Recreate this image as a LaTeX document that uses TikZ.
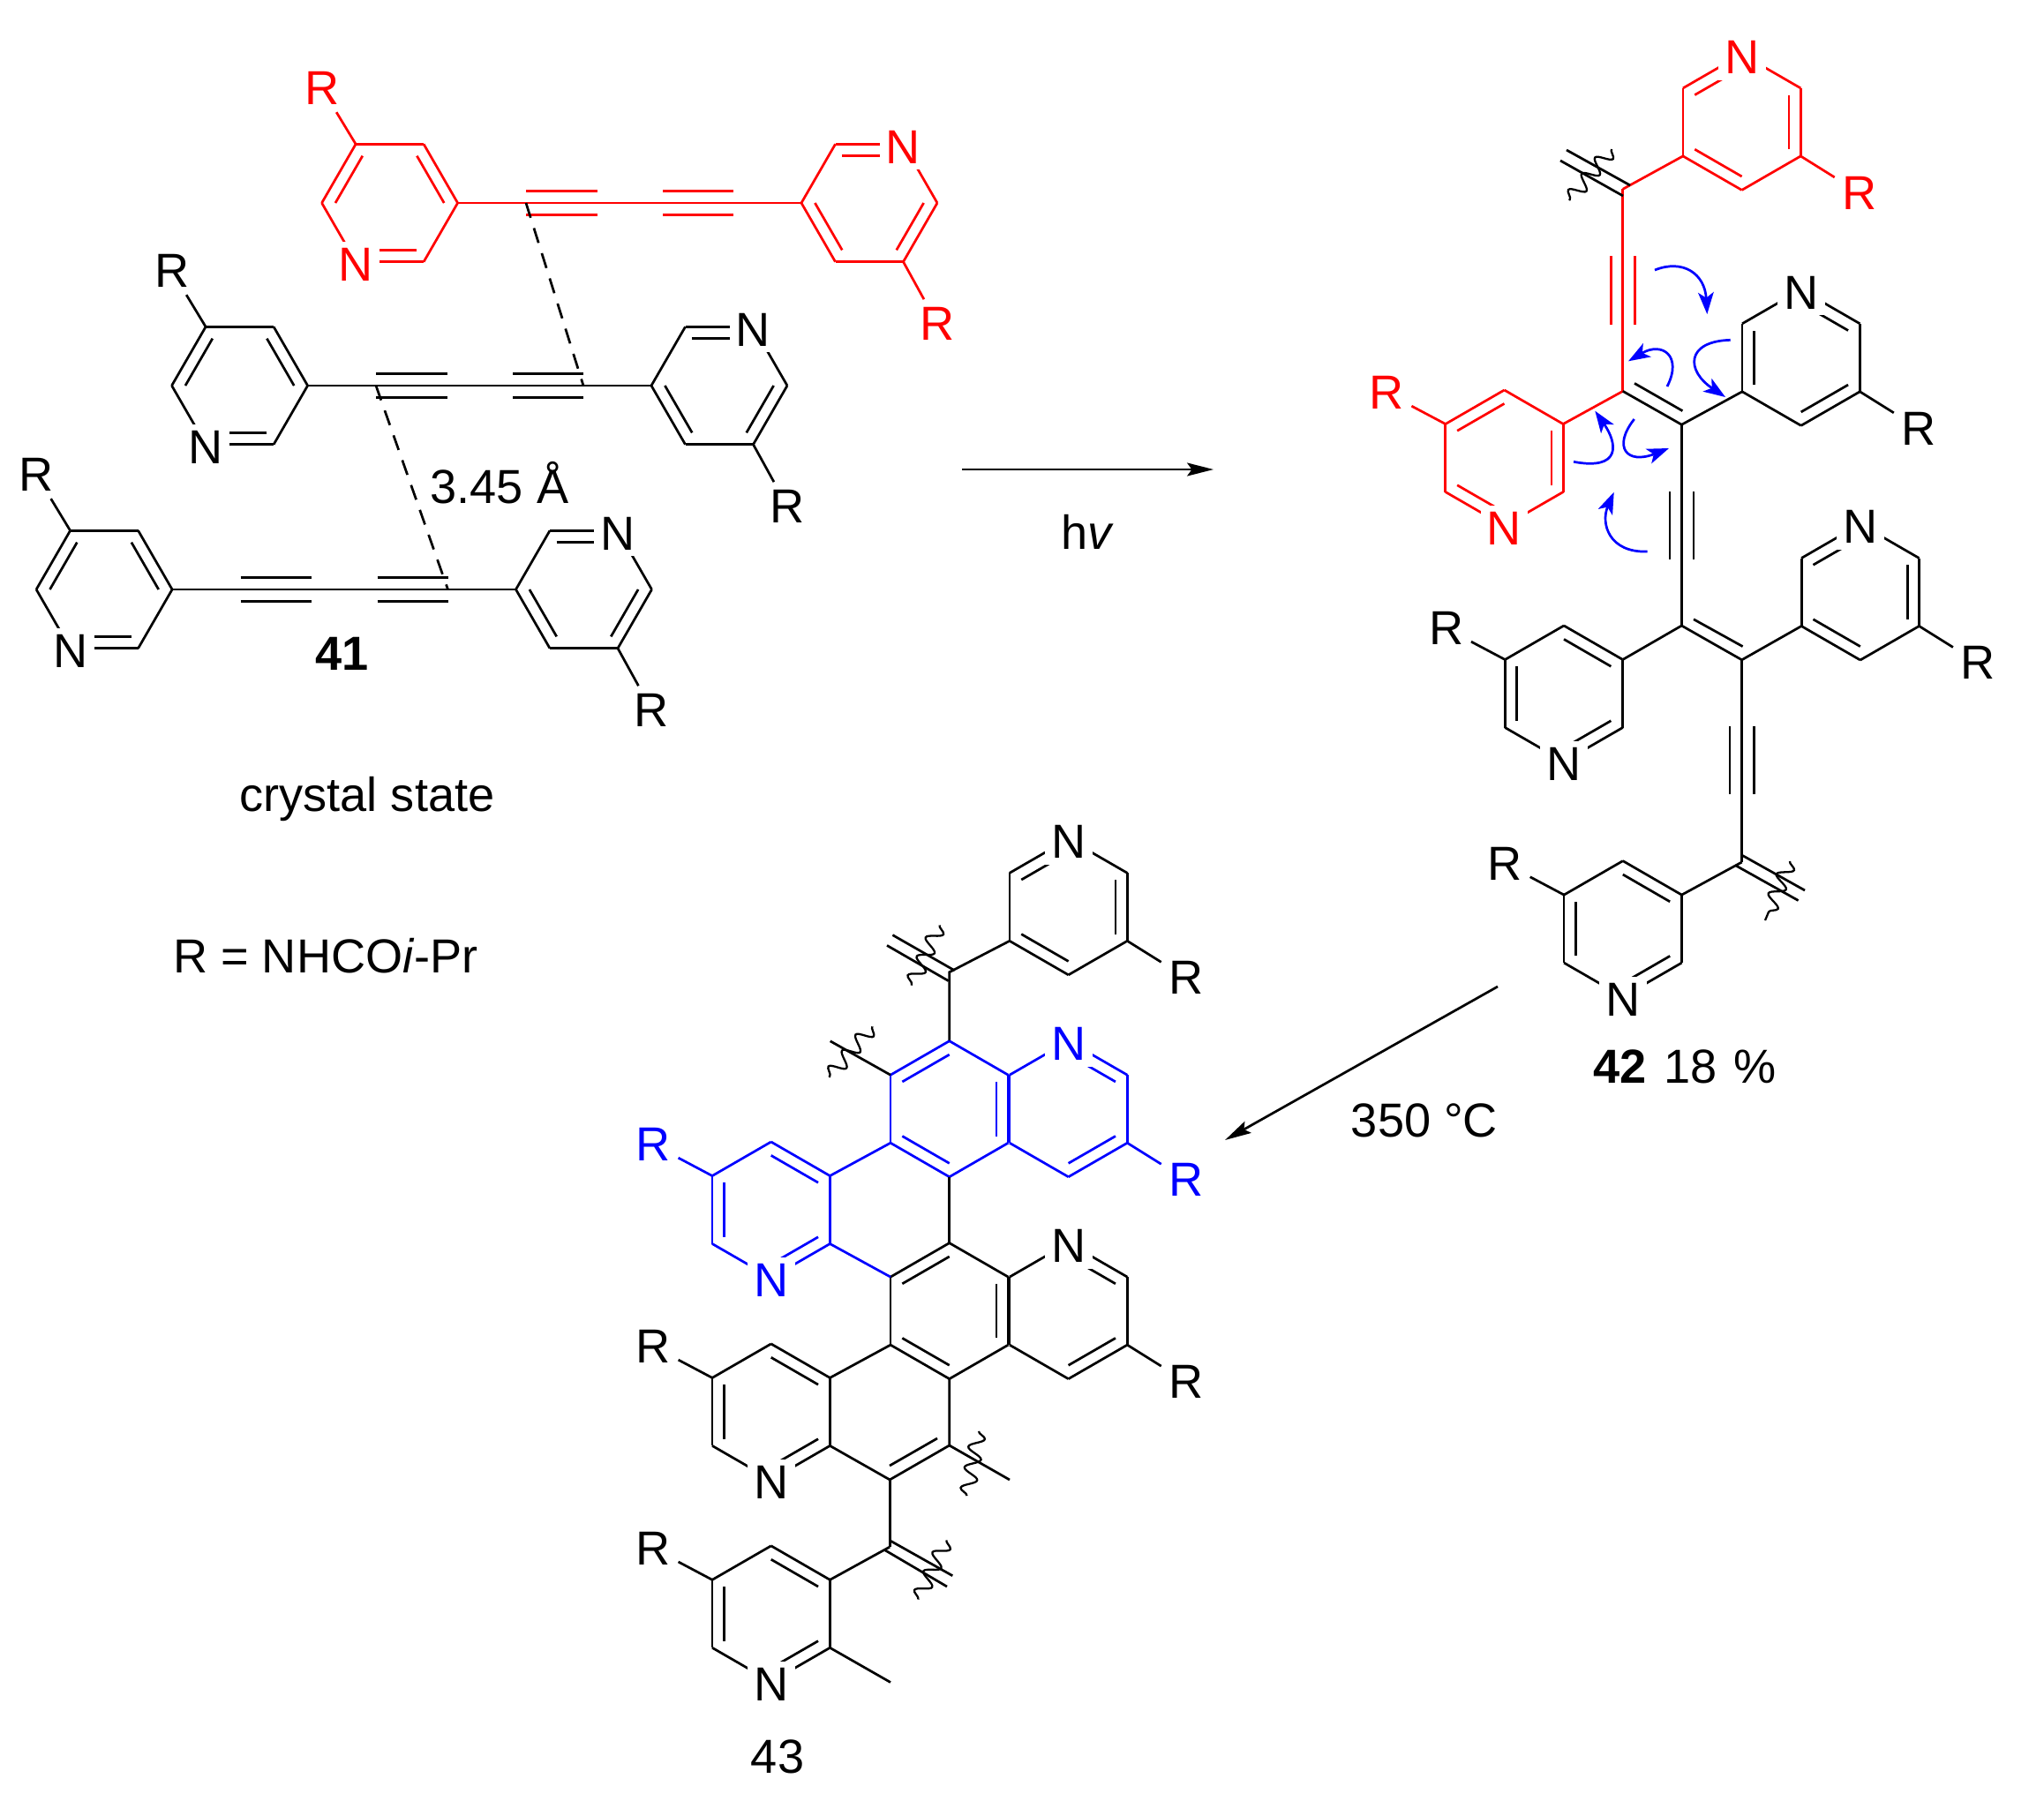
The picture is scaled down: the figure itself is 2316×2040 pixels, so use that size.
\documentclass[tikz,border=0pt]{standalone}
\usepackage{fontspec}
\setmainfont{Liberation Sans}
\usetikzlibrary{arrows.meta,calc,decorations.pathmorphing}

\newcommand\labelfont{\fontsize{30.8}{34}\selectfont}
\newcommand\ringsize{77}
\tikzset{
  atom/.style={fill=white, inner sep=4.2pt, yshift=-1.8pt},
  wavy/.style={line width=1.3pt, decorate, decoration={snake, segment length=13.5pt, amplitude=4.8pt}},
  contact/.style={dash pattern=on 10pt off 7pt},
  pushing/.style={blue, -{Stealth[length=14pt, width=10pt, inset=3.5pt]}},
  reaction/.style={-{Stealth[length=17pt, width=8.5pt, inset=3pt]}}
}
\newcommand\hexring[4]{
  \coordinate (#1) at (#2) ;
  \foreach \a in {0,60,...,300} {
    \pgfmathtruncatemacro\v{#3 + \a}
    \coordinate (#1-\v) at ($(#1) + (\v:\ringsize)$) ;
  }
  \foreach \a in {0,60,...,300} {
    \pgfmathtruncatemacro\v{#3 + \a}
    \pgfmathtruncatemacro\w{mod(#3 + \a + 60, 360)}
    \draw (#1-\v) -- (#1-\w) ;
  }
  \foreach \e in {#4} {
    \pgfmathtruncatemacro\w{mod(\e + 60, 360)}
    \draw ($(#1)!0.8!(#1-\e)$) -- ($(#1)!0.8!(#1-\w)$) ;
  }
}
\newcommand\pyridine[6]{
  \hexring{#1}{#2}{#3}{#4}
  \node[atom] (#1-N) at (#1-#5) {N} ;
  \node[atom] (#1-R) at ($(#1)!2!(#1-#6)$) {R} ;
  \draw (#1-#6) -- (#1-R) ;
}
\newcommand\triplebar[2]{
  \draw ($(#1)!7.7pt!90:(#2)$) -- ($(#2)!7.7pt!-90:(#1)$) ;
  \draw ($(#1)!7.7pt!-90:(#2)$) -- ($(#2)!7.7pt!90:(#1)$) ;
}
\newcommand\diynerow[2]{
  \begin{scope}[shift={(#2)}]
    \pyridine{#1-l}{441.6,230}{0}{180,300,60}{120}{240}
    \pyridine{#1-r}{985,230}{0}{240,120,0}{300}{60}
    \coordinate (#1-a1) at (596,230) ;
    \coordinate (#1-a2) at (676.5,230) ;
    \coordinate (#1-b1) at (751,230) ;
    \coordinate (#1-b2) at (831,230) ;
    \draw (#1-l-0) -- (#1-r-180) ;
    \triplebar{#1-a1}{#1-a2}
    \triplebar{#1-b1}{#1-b2}
  \end{scope}
}

\begin{document}
\begin{tikzpicture}[x=0.02cm, y=-0.02cm, line width=1.55pt, every node/.style={font=\labelfont}]
  \useasboundingbox (0,0) rectangle (2316,2040) ;
  % crystal
  \begin{scope}[red]
    \diynerow{top}{0,0}
  \end{scope}
  \diynerow{mid}{-170,207}
  \diynerow{low}{-323.5,438}
  \draw[contact] (top-a1) -- (mid-b2) ;
  \draw[contact] (mid-a1) -- (low-b2) ;
  \node (dist) at (566,547) {3.45 Å} ;
  \node (name41) at (388,741) {\textbf{41}} ;
  \node (crystal) at (416,905) {crystal state} ;
  \node (rdef) at (369,1083) {R = NHCO\textit{i}-Pr} ;
  \coordinate (hvstart) at (1090,532) ;
  \coordinate (hvend) at (1375,532) ;
  \draw[reaction] (hvstart) -- (hvend) ;
  \node (hv) at (1232,603) {h\textit{v}} ;
  % polymer
  \coordinate (p1) at (1838.8,214.3) ;
  \coordinate (p2) at (1838.8,443.3) ;
  \coordinate (p3) at (1905.4,481.2) ;
  \coordinate (p4) at (1905.4,709) ;
  \coordinate (p5) at (1973.6,747.8) ;
  \coordinate (p6) at (1973.6,977) ;
  \begin{scope}[red]
    \pyridine{t1}{1973.6,138.4}{30}{210,330,90}{270}{30}
    \pyridine{l1}{1704.5,519}{30}{210,330,90}{90}{210}
    \draw (p1) -- (t1-150) ;
    \draw (p1) -- (p2) ;
    \draw (p2) -- (l1-330) ;
    \coordinate (t1a) at (1838.8,290) ;
    \coordinate (t1b) at (1838.8,368) ;
    \triplebar{t1a}{t1b}
  \end{scope}
  \draw (1775,170) -- (1847,210) ;
  \draw (1768,182) -- (1839,222) ;
  \draw[wavy] (1826,169) -- (1778,227) ;
  \pyridine{r1}{2040.7,405.3}{30}{150,270,30}{270}{30}
  \draw (p2) -- (p3) -- (r1-150) ;
  \draw (1852,434.4) -- (1906.4,465.6) ;
  \draw (p3) -- (p4) ;
  \coordinate (m1a) at (1905.4,557) ;
  \coordinate (m1b) at (1905.4,634) ;
  \triplebar{m1a}{m1b}
  \pyridine{l2}{1772,786}{30}{270,150,30}{90}{210}
  \pyridine{r2}{2107.8,671}{30}{210,330,90}{270}{30}
  \draw (l2-330) -- (p4) -- (p5) -- (r2-150) ;
  \draw (1919,701.8) -- (1974.6,732.6) ;
  \draw (p5) -- (p6) ;
  \coordinate (m2a) at (1973.6,823) ;
  \coordinate (m2b) at (1973.6,900) ;
  \triplebar{m2a}{m2b}
  \pyridine{l3}{1838.8,1052.6}{30}{270,150,30}{90}{210}
  \draw (p6) -- (l3-330) ;
  \draw (1974.6,969.6) -- (2045,1009) ;
  \draw (1967,981) -- (2037.6,1020.5) ;
  \draw[wavy] (2028,976) -- (2000,1043) ;
  \node (name42) at (1909,1209) {\textbf{42}\hspace{2.5pt} 18\hspace{2pt} \%} ;
  % electron pushing
  \draw[pushing] (1875,306) .. controls (1906.7,293.3) and (1931.7,310) .. (1934.3,356) ;
  \draw[pushing] (1960.7,385.3) .. controls (1910,386.7) and (1910,420) .. (1955,450) ;
  \draw[pushing] (1889,438) .. controls (1906.7,403.3) and (1883.3,386.7) .. (1845,409.3) ;
  \draw[pushing] (1851.7,475) .. controls (1826.7,506.7) and (1843.3,526.7) .. (1891,508) ;
  \draw[pushing] (1783,523.3) .. controls (1836.7,533.3) and (1833.3,503.3) .. (1807.3,465.7) ;
  \draw[pushing] (1866.7,625) .. controls (1823.3,626.7) and (1813.3,593.3) .. (1828.7,557.7) ;
  \coordinate (heatstart) at (1697,1118) ;
  \coordinate (heatend) at (1388,1292) ;
  \draw[reaction] (heatstart) -- (heatend) ;
  \node (heat) at (1614,1270) {350 °C} ;
  % ribbon
  \pyridine{c1}{1210.6,1027.8}{30}{210,330,90}{270}{30}
  \coordinate (q1) at (1075.7,1101.7) ;
  \draw (c1-150) -- (q1) -- (1075.7,1180.5) ;
  \draw (1011.4,1059.6) -- (1081.6,1099.8) ;
  \draw (1005,1071.4) -- (1074.7,1111.6) ;
  \draw[wavy] (1064.6,1048.5) -- (1032.5,1116.6) ;
  \begin{scope}[blue]
    \hexring{b1}{1075.7,1256.7}{30}{210,330,90}
    \pyridine{b2}{1210.6,1256.7}{30}{270,30}{270}{30}
    \pyridine{b3}{873.7,1371}{30}{270,150,30}{90}{210}
  \end{scope}
  \draw (b1-210) -- (940.7,1179.8) ;
  \draw[wavy] (988.4,1163.3) -- (939.3,1220.7) ;
  \hexring{b4}{1075.7,1485.6}{30}{210,330,90}
  \pyridine{b5}{1210.6,1485.6}{30}{270,30}{270}{30}
  \pyridine{b6}{873.7,1599.9}{30}{270,150,30}{90}{210}
  \draw (b1-90) -- (b4-270) ;
  \draw[blue] (b1-150) -- (b3-330) ;
  \draw[blue] (b3-30) -- (b4-210) ;
  \draw (b4-150) -- (b6-330) ;
  \coordinate (q2) at (1008.2,1676.9) ;
  \coordinate (q3) at (1075.7,1638) ;
  \coordinate (q4) at (1008.2,1753) ;
  \draw (b6-30) -- (q2) -- (q3) -- (b4-90) ;
  \draw (1062,1630) -- (1008,1661) ;
  \draw (q3) -- (1144,1677) ;
  \draw[wavy] (1109,1622) -- (1095.4,1695) ;
  \draw (q2) -- (q4) ;
  \pyridine{b7}{873.7,1828.8}{30}{270,150,30}{90}{210}
  \draw (q4) -- (b7-330) ;
  \draw (1009.6,1746.5) -- (1079.3,1785.7) ;
  \draw (1002.7,1756.7) -- (1073,1798) ;
  \draw[wavy] (1072.4,1745.4) -- (1040.3,1812.4) ;
  \draw (b7-30) -- (1009,1906.5) ;
  \node (name43) at (881,1990.7) {43} ;
\end{tikzpicture}
\end{document}
